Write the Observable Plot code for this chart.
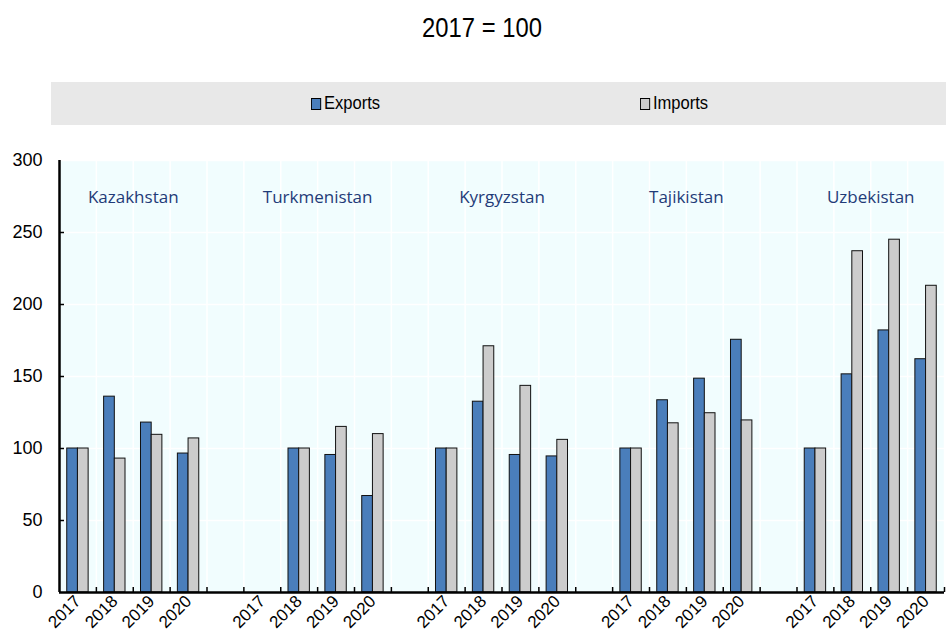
<!DOCTYPE html>
<html><head><meta charset="utf-8">
<script src="https://cdn.jsdelivr.net/npm/d3@7"></script>
<script src="https://cdn.jsdelivr.net/npm/@observablehq/plot@0.6"></script>
<style>
body{margin:0;background:#fff;font-family:"Liberation Sans",Arial,sans-serif;}
#wrap{position:relative;width:946px;height:634px;overflow:hidden;}
#title{position:absolute;left:0;top:11px;width:964px;text-align:center;font-size:28px;line-height:34px;transform:scaleX(0.85);transform-origin:482px 0;}
#legend{position:absolute;left:51px;top:82px;width:895px;height:43px;background:#e8e8e8;}
.item{position:absolute;top:0;height:43px;line-height:43px;font-size:18px;white-space:nowrap;transform:scaleX(0.92);transform-origin:0 0;}
.sw{display:inline-block;width:9px;height:10px;border:1px solid #000;margin-right:3px;vertical-align:-1px;}
#chart{position:absolute;left:0;top:135px;}
</style></head>
<body>
<div id="wrap">
  <div id="title">2017 = 100</div>
  <div id="legend"></div>
  <div id="chart"></div>
</div>
<script>
const countries = ["Kazakhstan", "Turkmenistan", "Kyrgyzstan", "Tajikistan", "Uzbekistan"];
const years = ["2017", "2018", "2019", "2020"];
const seriesNames = ["Exports", "Imports"];
const seriesColors = ["#4a7ebb", "#cccccc"];
// index values (2017 = 100), one row per country, columns = years
const exportsIdx = [
  [100, 136, 118, 96.5],
  [null, 100, 95.5, 67],
  [100, 132.5, 95.5, 94.5],
  [100, 133.5, 148.5, 175.5],
  [100, 151.5, 182, 162]
];
const importsIdx = [
  [100, 93, 109.5, 107],
  [null, 100, 115, 110],
  [100, 171, 143.5, 106],
  [100, 117.5, 124.5, 119.5],
  [100, 237, 245, 213]
];
const yTicks = [0, 50, 100, 150, 200, 250, 300];
const labelLevel = 274;

// layout: each country takes 4 year slots followed by one empty slot
const slotsPerCountry = years.length + 1;
const nSlots = countries.length * slotsPerCountry - 1;
const barW = 0.29;

const rows = [];
const yearTicks = [];
const yearAt = new Map();
countries.forEach((c, ci) => {
  years.forEach((yr, yi) => {
    const slot = ci * slotsPerCountry + yi;
    yearTicks.push(slot + 0.5);
    yearAt.set(slot + 0.5, yr);
    [exportsIdx, importsIdx].forEach((arr, si) => {
      const v = arr[ci][yi];
      if (v != null) rows.push({country: c, year: yr, slot, series: seriesNames[si], si, value: v});
    });
  });
});
const boundaries = d3.range(1, nSlots + 1);

// legend
const legend = document.getElementById("legend");
const legendX = [260, 589];
seriesNames.forEach((s, i) => {
  const el = document.createElement("div");
  el.className = "item";
  el.style.left = legendX[i] + "px";
  el.innerHTML = `<span class="sw" style="background:${seriesColors[i]}"></span>${s}`;
  legend.appendChild(el);
});

const chart = Plot.plot({
  width: 946,
  height: 499,
  marginLeft: 59,
  marginRight: 2,
  marginTop: 25,
  marginBottom: 42,
  style: {fontFamily: '"Liberation Sans",Arial,sans-serif', fontSize: "18px", color: "#000", background: "transparent"},
  x: {type: "linear", domain: [0, nSlots]},
  y: {domain: [0, 300]},
  color: {domain: seriesNames, range: seriesColors},
  marks: [
    Plot.frame({fill: "#f1fdfe", stroke: null}),
    Plot.gridY(yTicks, {stroke: "#ffffff", strokeOpacity: 1, strokeWidth: 1.5}),
    Plot.gridX(boundaries, {stroke: "#ffffff", strokeOpacity: 1, strokeWidth: 1.5}),
    Plot.rect(rows, {
      x1: d => d.slot + (d.si === 0 ? 0.5 - barW : 0.5),
      x2: d => d.slot + (d.si === 0 ? 0.5 : 0.5 + barW),
      y1: 0,
      y2: "value",
      fill: "series",
      stroke: "#111",
      strokeWidth: 1
    }),
    Plot.ruleY([0], {stroke: "#000", strokeWidth: 2.5}),
    Plot.ruleX([0], {stroke: "#000", strokeWidth: 2.5}),
    Plot.axisY({ticks: yTicks, tickSize: 0, tickPadding: 17, label: null, fontSize: 18}),
    Plot.axisY({ticks: yTicks.slice(1, -1), tickSize: 5, dx: 5, tickFormat: () => "", label: null, strokeWidth: 1.5}),
    Plot.axisX({ticks: boundaries, tickSize: 5, dy: -5, tickFormat: () => "", label: null, strokeWidth: 1.5}),
    Plot.axisX({ticks: yearTicks, tickSize: 0, tickPadding: 6, tickRotate: -45, tickFormat: v => yearAt.get(v), label: null, fontSize: 17}),
    Plot.text(countries, {
      x: (d, i) => i * slotsPerCountry + years.length / 2,
      y: labelLevel,
      text: d => d,
      fill: "#1f3b78",
      fontSize: 17,
      fontFamily: '"Open Sans", "Noto Sans", sans-serif'
    })
  ]
});
document.getElementById("chart").appendChild(chart);
</script>
</body></html>
